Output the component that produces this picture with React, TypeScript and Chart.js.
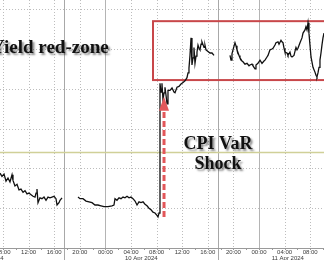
import React, { useEffect, useRef } from "react";
import { Chart, registerables } from "chart.js";
Chart.register(...registerables);

// hours since 9 Apr 2024 00:00
const session1Hours = [7.53, 7.84, 8.16, 8.47, 8.78, 9.09, 9.41, 9.56, 9.87, 10.19, 10.5, 10.81, 11.13, 11.44, 11.75, 12.06, 12.38, 12.69, 13.0, 13.16, 13.31, 13.47, 13.78, 14.09, 14.41, 14.72, 15.03, 15.34, 15.66, 15.97, 16.28, 16.44, 16.75, 16.91, 17.22];
const session1Yield = [4.794, 4.79, 4.793, 4.784, 4.788, 4.783, 4.792, 4.785, 4.778, 4.78, 4.773, 4.774, 4.77, 4.772, 4.768, 4.769, 4.767, 4.765, 4.764, 4.769, 4.774, 4.757, 4.763, 4.762, 4.764, 4.76, 4.764, 4.763, 4.764, 4.765, 4.762, 4.754, 4.757, 4.76, 4.763];

const session2Hours = [19.72, 20.03, 20.5, 20.97, 21.44, 21.91, 22.37, 22.84, 23.31, 23.78, 24.41, 25.03, 25.34, 25.5, 25.81, 26.13, 26.44, 26.75, 27.06, 27.38, 27.69, 28.0, 28.31, 28.63, 28.94, 29.25, 29.56, 29.88, 30.19, 30.5, 30.81, 31.13, 31.44, 31.75, 32.06, 32.22, 32.38, 32.53, 32.69, 32.84, 33.0, 33.16, 33.31, 33.47, 33.63, 33.78, 34.09, 34.41, 34.72, 34.88, 35.19, 35.5, 35.81, 36.13, 36.44, 36.75, 36.91, 37.06, 37.22, 37.38, 37.53, 37.69, 37.84, 38.0, 38.16, 38.31, 38.47, 38.63, 38.78, 38.94, 39.09, 39.41, 39.56, 39.72, 40.03, 40.34, 40.66, 40.97];
const session2Yield = [4.764, 4.762, 4.762, 4.759, 4.758, 4.757, 4.754, 4.754, 4.753, 4.752, 4.752, 4.753, 4.754, 4.762, 4.76, 4.763, 4.762, 4.764, 4.763, 4.765, 4.763, 4.764, 4.762, 4.759, 4.754, 4.758, 4.757, 4.758, 4.755, 4.753, 4.75, 4.748, 4.745, 4.744, 4.741, 4.739, 4.744, 4.907, 4.896, 4.907, 4.886, 4.895, 4.902, 4.892, 4.881, 4.898, 4.898, 4.901, 4.896, 4.895, 4.902, 4.903, 4.906, 4.908, 4.91, 4.914, 4.92, 4.926, 4.942, 4.964, 4.93, 4.939, 4.952, 4.932, 4.941, 4.946, 4.955, 4.951, 4.949, 4.956, 4.959, 4.952, 4.955, 4.949, 4.947, 4.945, 4.945, 4.942];

const session3Hours = [43.47, 43.63, 43.78, 43.94, 44.25, 44.41, 44.56, 44.88, 45.03, 45.34, 45.5, 45.81, 46.13, 46.44, 46.59, 46.91, 47.06, 47.38, 47.53, 47.84, 48.16, 48.47, 48.78, 48.94, 49.25, 49.41, 49.72, 50.03, 50.19, 50.5, 50.66, 50.97, 51.13, 51.44, 51.59, 51.75, 51.91, 52.06, 52.38, 52.53, 52.84, 53.0, 53.16, 53.47, 53.78, 53.94, 54.09, 54.41, 54.72, 54.88, 55.19, 55.34, 55.5, 55.66, 55.81, 55.97, 56.13, 56.44, 56.75, 56.91, 57.06, 57.22, 57.38, 57.53, 57.69, 57.84, 58.0, 58.16];
const session3Yield = [4.942, 4.936, 4.944, 4.949, 4.958, 4.954, 4.949, 4.942, 4.939, 4.935, 4.934, 4.931, 4.932, 4.929, 4.93, 4.931, 4.929, 4.925, 4.93, 4.932, 4.936, 4.932, 4.935, 4.936, 4.94, 4.942, 4.949, 4.95, 4.951, 4.955, 4.958, 4.959, 4.956, 4.961, 4.959, 4.958, 4.951, 4.946, 4.945, 4.942, 4.946, 4.941, 4.94, 4.942, 4.952, 4.949, 4.951, 4.958, 4.964, 4.97, 4.974, 4.978, 4.974, 4.983, 4.97, 4.955, 4.94, 4.927, 4.921, 4.917, 4.915, 4.92, 4.927, 4.936, 4.945, 4.955, 4.964, 4.97];

const tickHours = [8, 12, 16, 20, 24, 28, 32, 36, 40, 44, 48, 52, 56];
const tickLabels = ["08:00", "12:00", "16:00", "20:00", "00:00", "04:00", "08:00", "12:00", "16:00", "20:00", "00:00", "04:00", "08:00"];
const midnightHours = [24, 48];
const sessionBreakHours = [17.6, 41.6];
const dateLabels = ["9 Apr 2024", "10 Apr 2024", "11 Apr 2024"];
const dateLabelHours = [5.8, 29.6, 52.5];
const gridYields = [4.75, 4.8, 4.85, 4.9, 4.95, 5.0];
const refYield = 4.82;
const redZone = [4.911, 4.985];
const redZoneStartHour = 31.44;
const arrowHour = 33.16;
const arrowFromYield = 4.739;
const arrowToYield = 4.89;
const xMin = 7.53;
const xMax = 58.16;
const yMin = 4.7;
const yMax = 5.0116;

function toPoints(hs: number[], ys: number[]) {
  return hs.map((h, i) => ({ x: h, y: ys[i] }));
}

const annotPlugin = {
  id: "annot",
  beforeDatasetsDraw(chart: any) {
    const { ctx, chartArea: a, scales } = chart;
    const x = scales.x;
    const y = scales.y;
    const ln = (x1: number, y1: number, x2: number, y2: number) => {
      ctx.beginPath();
      ctx.moveTo(x1, y1);
      ctx.lineTo(x2, y2);
      ctx.stroke();
    };
    ctx.save();
    ctx.lineWidth = 1;
    ctx.strokeStyle = "#bdbdbd";
    ctx.setLineDash([1, 2]);
    gridYields.forEach((v) => {
      const py = Math.round(y.getPixelForValue(v)) + 0.5;
      ln(a.left, py, a.right, py);
    });
    tickHours.forEach((h) => {
      if (midnightHours.includes(h)) return;
      const px = Math.round(x.getPixelForValue(h)) + 0.5;
      ln(px, a.top, px, a.bottom);
    });
    ctx.setLineDash([]);
    ctx.strokeStyle = "#b4b4b4";
    midnightHours.forEach((h) => {
      const px = Math.round(x.getPixelForValue(h)) + 0.5;
      ln(px, a.top, px, a.bottom);
    });
    ctx.strokeStyle = "#a8a8a8";
    sessionBreakHours.forEach((h) => {
      const px = Math.round(x.getPixelForValue(h)) + 0.5;
      ln(px, a.top, px, chart.height);
    });
    // axis line
    ctx.strokeStyle = "#9a9a9a";
    ln(a.left, a.bottom + 0.5, a.right, a.bottom + 0.5);
    // minor ticks
    for (let h = 8; h <= 58; h += 2) {
      const px = Math.round(x.getPixelForValue(h)) + 0.5;
      ln(px, a.bottom, px, a.bottom + 2);
    }
    // reference level
    ctx.strokeStyle = "#d0d098";
    ctx.lineWidth = 1.5;
    const ry = y.getPixelForValue(refYield);
    ln(a.left, ry, a.right, ry);
    // red zone box
    ctx.strokeStyle = "#c8474a";
    ctx.lineWidth = 2;
    const bx = x.getPixelForValue(redZoneStartHour);
    const by1 = y.getPixelForValue(redZone[1]);
    const by2 = y.getPixelForValue(redZone[0]);
    ctx.strokeRect(bx, by1, a.right + 10 - bx, by2 - by1);
    ctx.restore();
  },
  afterDatasetsDraw(chart: any) {
    const { ctx, chartArea: a, scales } = chart;
    const x = scales.x;
    const y = scales.y;
    ctx.save();
    // dashed arrow
    const ax = x.getPixelForValue(arrowHour);
    const ay1 = y.getPixelForValue(arrowFromYield);
    const ay2 = y.getPixelForValue(arrowToYield);
    ctx.strokeStyle = "#e2575a";
    ctx.lineWidth = 3;
    ctx.setLineDash([6, 3]);
    ctx.beginPath();
    ctx.moveTo(ax, ay1);
    ctx.lineTo(ax, ay2 + 12);
    ctx.stroke();
    ctx.setLineDash([]);
    ctx.fillStyle = "#e2575a";
    ctx.beginPath();
    ctx.moveTo(ax, ay2);
    ctx.lineTo(ax - 5, ay2 + 14);
    ctx.lineTo(ax + 5, ay2 + 14);
    ctx.closePath();
    ctx.fill();

    // annotation texts
    ctx.shadowColor = "rgba(0,0,0,0.45)";
    ctx.shadowOffsetX = 2;
    ctx.shadowOffsetY = 2;
    ctx.shadowBlur = 2;
    ctx.fillStyle = "#111";
    ctx.textBaseline = "alphabetic";
    ctx.font = 'bold 19px "Liberation Serif", serif';
    ctx.textAlign = "left";
    ctx.fillText("Yield red-zone", -9, 53);
    ctx.font = 'bold 18px "Liberation Serif", serif';
    ctx.textAlign = "center";
    ctx.fillText("CPI VaR", 218, 149);
    ctx.fillText("Shock", 218, 169);
    ctx.shadowColor = "transparent";
    ctx.shadowOffsetX = 0;
    ctx.shadowOffsetY = 0;
    ctx.shadowBlur = 0;

    // axis labels
    ctx.fillStyle = "#3a3a3a";
    ctx.font = '6px "Liberation Sans", sans-serif';
    ctx.textAlign = "center";
    ctx.textBaseline = "middle";
    tickHours.forEach((h, i) => {
      ctx.fillText(tickLabels[i], x.getPixelForValue(h), a.bottom + 4);
    });
    dateLabels.forEach((t, i) => {
      ctx.fillText(t, x.getPixelForValue(dateLabelHours[i]), a.bottom + 10);
    });
    ctx.restore();
  },
};

export default function App() {
  const ref = useRef<HTMLCanvasElement | null>(null);
  useEffect(() => {
    if (!ref.current) return;
    const data = [
      ...toPoints(session1Hours, session1Yield),
      { x: 18.5, y: null as any },
      ...toPoints(session2Hours, session2Yield),
      { x: 42.2, y: null as any },
      ...toPoints(session3Hours, session3Yield),
    ];
    const chart = new Chart(ref.current, {
      type: "line",
      data: {
        datasets: [
          {
            data,
            borderColor: "#111",
            borderWidth: 1.3,
            pointRadius: 0,
            tension: 0,
            spanGaps: false,
          },
        ],
      },
      options: {
        animation: false,
        responsive: true,
        maintainAspectRatio: false,
        layout: { padding: { left: 0, right: 0, top: 0, bottom: 12 } },
        plugins: { legend: { display: false }, tooltip: { enabled: false } },
        scales: {
          x: { type: "linear", display: false, min: xMin, max: xMax },
          y: { type: "linear", display: false, min: yMin, max: yMax },
        },
      },
      plugins: [annotPlugin],
    });
    return () => chart.destroy();
  }, []);
  return (
    <div style={{ position: "fixed", left: 0, top: 0, width: 324, height: 260, background: "#fff" }}>
      <canvas ref={ref} />
    </div>
  );
}
